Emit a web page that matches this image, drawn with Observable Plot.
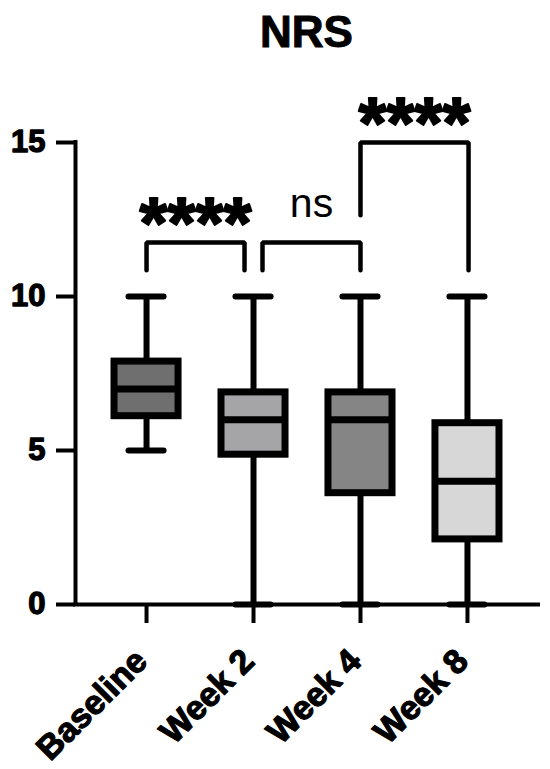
<!DOCTYPE html>
<html><head><meta charset="utf-8">
<script src="https://cdn.jsdelivr.net/npm/d3@7"></script>
<script src="https://cdn.jsdelivr.net/npm/@observablehq/plot@0.6"></script>
<style>
body{margin:0;background:#fff;font-family:"Liberation Sans",Arial,Helvetica,sans-serif;}
#title{height:60px;box-sizing:border-box;padding:10px 12px 0 75px;text-align:center;font-weight:bold;font-size:44px;line-height:44px;color:#000;-webkit-text-stroke:1px #000;}
#chart svg{display:block;}
</style></head><body>
<div id="title">NRS</div>
<div id="chart"></div>
<script>
const categories = ["Baseline", "Week 2", "Week 4", "Week 8"];
const whiskerLow = [5, 0, 0, 0];
const quartile1 = [6, 4.75, 3.5, 2];
const medians = [7, 6, 6, 4];
const quartile3 = [8, 7, 7, 6];
const whiskerHigh = [10, 10, 10, 10];
const boxFills = ["#6f6f6f", "#a5a5a8", "#858585", "#d7d7d7"];
const yTicks = [0, 5, 10, 15];

// significance comparisons (x in category index units, y in NRS units)
const bracketFrom = [0, 1.084, 2];
const bracketTo = [0.916, 2, 3.01];
const bracketTop = [11.75, 11.75, 15];
const bracketLeftEnd = [10.85, 10.85, 12.64];
const bracketRightEnd = [10.85, 10.85, 10.85];
const sigLabels = ["****", "ns", "****"];
const sigLabelY = [11.57, 12.575, 14.83];

const boxes = categories.map((c, i) => ({
  i, c, low: whiskerLow[i], q1: quartile1[i], median: medians[i], q3: quartile3[i], high: whiskerHigh[i], fill: boxFills[i]
}));
const bracketPts = [];
bracketFrom.forEach((x1, k) => {
  bracketPts.push({k, x: x1, y: bracketLeftEnd[k]});
  bracketPts.push({k, x: x1, y: bracketTop[k]});
  bracketPts.push({k, x: bracketTo[k], y: bracketTop[k]});
  bracketPts.push({k, x: bracketTo[k], y: bracketRightEnd[k]});
});
const labels = sigLabels.map((t, k) => ({t, x: (bracketFrom[k] + bracketTo[k]) / 2, y: sigLabelY[k]}));
const xDomain = [-0.664, 3.664];
const xIdx = categories.map((c, i) => i);

const chart = Plot.plot({
  width: 550, height: 709,
  marginTop: 82, marginBottom: 165, marginLeft: 75, marginRight: 12,
  x: {type: "linear", domain: xDomain, label: null},
  y: {domain: [0, 15], label: null},
  style: {fontFamily: "Liberation Sans, Arial, Helvetica, sans-serif", background: "white", color: "black", overflow: "visible"},
  marks: [
    Plot.axisY(yTicks, {tickSize: 19, strokeWidth: 4, tickFormat: () => "", label: null}),
    Plot.axisX(xIdx, {tickSize: 19, strokeWidth: 4, tickFormat: () => "", label: null}),
    Plot.text(yTicks, {y: d => d, text: d => `${d}`, frameAnchor: "left", dx: -30, textAnchor: "end", lineAnchor: "middle", fontSize: 31, fontWeight: "bold", fill: "black", stroke: "black", strokeWidth: 1.3}),
    Plot.text(xIdx, {x: d => d, text: d => categories[d], frameAnchor: "bottom", dx: -5, dy: 51, rotate: -45, textAnchor: "end", lineAnchor: "middle", fontSize: 34, fontWeight: "bold", fill: "black", stroke: "black", strokeWidth: 1.2}),
    Plot.ruleY([0], {strokeWidth: 4, strokeLinecap: "square"}),
    Plot.ruleX([xDomain[0]], {strokeWidth: 4, strokeLinecap: "square"}),
    Plot.ruleX(boxes, {x: "i", y1: "low", y2: "high", strokeWidth: 6}),
    Plot.ruleY(boxes, {y: "low", x1: d => d.i - 0.164, x2: d => d.i + 0.164, strokeWidth: 6, strokeLinecap: "round"}),
    Plot.ruleY(boxes, {y: "high", x1: d => d.i - 0.164, x2: d => d.i + 0.164, strokeWidth: 6, strokeLinecap: "round"}),
    Plot.rect(boxes, {x1: d => d.i - 0.332, x2: d => d.i + 0.332, y1: "q1", y2: "q3", fill: "fill", stroke: "black", strokeWidth: 7, inset: 3.5}),
    Plot.ruleY(boxes, {y: "median", x1: d => d.i - 0.299, x2: d => d.i + 0.299, strokeWidth: 7}),
    Plot.line(bracketPts, {x: "x", y: "y", z: "k", stroke: "black", strokeWidth: 4.5, strokeLinecap: "round", strokeLinejoin: "miter"}),
    Plot.text(labels.filter(d => d.t !== "ns"), {x: "x", y: "y", text: "t", fontSize: 72, fontWeight: "bold", lineAnchor: "bottom", textAnchor: "middle", fill: "black", stroke: "black", strokeWidth: 2}),
    Plot.text(labels.filter(d => d.t === "ns"), {x: "x", y: "y", text: "t", fontSize: 41, lineAnchor: "bottom", textAnchor: "middle", fill: "black"})
  ]
});
document.getElementById("chart").appendChild(chart);
</script>
</body></html>
